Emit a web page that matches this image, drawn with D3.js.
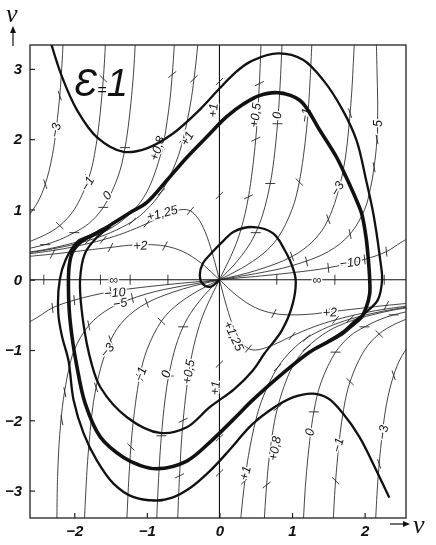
<!DOCTYPE html>
<html>
<head>
<meta charset="utf-8">
<script src="https://cdn.jsdelivr.net/npm/d3@7"></script>
<style>
  body { margin: 0; background: #fff; }
  svg { display: block; filter: grayscale(1); }
  text { font-family: "Liberation Sans", Arial, sans-serif; font-style: italic; fill: #111; }
</style>
</head>
<body>
<svg id="chart" width="436" height="545"></svg>
<script>
// ---- data (phase plane v, dv/dt, eps = 1) ----

// isoclines, one array per branch, [v, v'] pairs
var iso0Inner = [[-0.87,-3.58],[-0.86,-3.30],[-0.83,-2.67],[-0.8,-2.22],[-0.75,-1.71],[-0.7,-1.37],[-0.6,-0.94],[-0.5,-0.67],[-0.4,-0.48],[-0.2,-0.21],[0,0],[0.2,0.21],[0.4,0.48],[0.5,0.67],[0.6,0.94],[0.7,1.37],[0.75,1.71],[0.8,2.22],[0.83,2.67],[0.86,3.30],[0.87,3.58]];
var iso0Left = [[-1.12,4.40],[-1.15,3.57],[-1.2,2.73],[-1.3,1.88],[-1.4,1.46],[-1.6,1.03],[-1.8,0.80],[-2.0,0.67],[-2.2,0.57],[-2.4,0.50],[-2.65,0.44]];
var iso0Right = [[1.12,-4.40],[1.15,-3.57],[1.2,-2.73],[1.3,-1.88],[1.4,-1.46],[1.6,-1.03],[1.8,-0.80],[2.0,-0.67],[2.2,-0.57],[2.4,-0.50],[2.65,-0.44]];
var iso1Left = [[-0.27,3.70],[-0.3,3.33],[-0.35,2.86],[-0.4,2.5],[-0.5,2.0],[-0.6,1.67],[-0.8,1.25],[-1.0,1.0],[-1.2,0.83],[-1.5,0.67],[-1.8,0.56],[-2.1,0.48],[-2.4,0.42],[-2.65,0.38]];
var iso1Right = [[0.27,-3.70],[0.3,-3.33],[0.35,-2.86],[0.4,-2.5],[0.5,-2.0],[0.6,-1.67],[0.8,-1.25],[1.0,-1.0],[1.2,-0.83],[1.5,-0.67],[1.8,-0.56],[2.1,-0.48],[2.4,-0.42],[2.65,-0.38]];
var isoM1Inner = [[-1.28,-3.54],[-1.25,-2.86],[-1.2,-2.14],[-1.1,-1.39],[-1.0,-1.0],[-0.8,-0.59],[-0.6,-0.37],[-0.3,-0.16],[0,0],[0.3,0.16],[0.6,0.37],[0.8,0.59],[1.0,1.0],[1.1,1.39],[1.2,2.14],[1.25,2.86],[1.28,3.54]];
var isoM1Left = [[-1.55,3.85],[-1.6,2.86],[-1.7,1.91],[-1.8,1.45],[-2.0,1.0],[-2.2,0.77],[-2.4,0.64],[-2.65,0.53]];
var isoM1Right = [[1.55,-3.85],[1.6,-2.86],[1.7,-1.91],[1.8,-1.45],[2.0,-1.0],[2.2,-0.77],[2.4,-0.64],[2.65,-0.53]];
var isoM3Inner = [[-1.87,-3.72],[-1.85,-3.20],[-1.8,-2.37],[-1.7,-1.53],[-1.5,-0.86],[-1.3,-0.56],[-1.0,-0.33],[-0.5,-0.13],[0,0],[0.5,0.13],[1.0,0.33],[1.3,0.56],[1.5,0.86],[1.7,1.53],[1.8,2.37],[1.85,3.20],[1.87,3.72]];
var isoM3Left = [[-2.15,3.45],[-2.2,2.62],[-2.3,1.78],[-2.4,1.36],[-2.5,1.11],[-2.65,0.88]];
var isoM3Right = [[2.15,-3.45],[2.2,-2.62],[2.3,-1.78],[2.4,-1.36],[2.5,-1.11],[2.65,-0.88]];
var isoM5 = [[-2.24,-3.45],[-2.23,-2.8],[-2.2,-2.2],[-2.15,-1.7],[-2.08,-1.3],[-2.0,-1.0],[-1.8,-0.65],[-1.5,-0.40],[-1.0,-0.2],[-0.5,-0.087],[0,0],[0.5,0.087],[1.0,0.2],[1.5,0.40],[1.8,0.65],[2.0,1.0],[2.08,1.3],[2.13,1.6],[2.17,2.0],[2.18,2.5],[2.17,3.0],[2.16,3.45]];
var isoM10 = [[-2.65,-0.62],[-2.5,-0.53],[-2.3,-0.40],[-2.0,-0.29],[-1.5,-0.17],[-1.0,-0.1],[-0.5,-0.047],[0,0],[0.5,0.047],[1.0,0.1],[1.5,0.17],[2.0,0.29],[2.3,0.40],[2.5,0.53],[2.65,0.62]];
var iso2 = [[-2.65,0.33],[-2.3,0.365],[-2.0,0.40],[-1.5,0.46],[-1.25,0.49],[-1.0,0.5],[-0.75,0.48],[-0.5,0.4],[-0.25,0.235],[0,0],[0.25,-0.235],[0.5,-0.4],[0.75,-0.48],[1.0,-0.5],[1.25,-0.49],[1.5,-0.46],[2.0,-0.40],[2.3,-0.365],[2.65,-0.33]];
var iso125 = [[-2.65,0.365],[-2.3,0.415],[-2.0,0.47],[-1.6,0.57],[-1.3,0.67],[-1.0,0.8],[-0.8,0.9],[-0.6,0.98],[-0.5,1.0],[-0.4,0.98],[-0.3,0.88],[-0.2,0.69],[-0.1,0.385],[0,0],[0.1,-0.385],[0.2,-0.69],[0.3,-0.88],[0.4,-0.98],[0.5,-1.0],[0.6,-0.98],[0.8,-0.9],[1.0,-0.8],[1.3,-0.67],[1.6,-0.57],[2.0,-0.47],[2.3,-0.415],[2.65,-0.365]];
var iso08Left = [[-0.58,4.25],[-0.6,3.75],[-0.65,2.92],[-0.7,2.41],[-0.8,1.82],[-1.0,1.25],[-1.2,0.97],[-1.5,0.73],[-1.8,0.59],[-2.1,0.50],[-2.4,0.43],[-2.65,0.39]];
var iso08Right = [[0.58,-4.25],[0.6,-3.75],[0.65,-2.92],[0.7,-2.41],[0.8,-1.82],[1.0,-1.25],[1.2,-0.97],[1.5,-0.73],[1.8,-0.59],[2.1,-0.50],[2.4,-0.43],[2.65,-0.39]];
var iso05Inner = [[-0.58,-3.55],[-0.55,-2.79],[-0.5,-2.0],[-0.4,-1.18],[-0.3,-0.73],[-0.2,-0.435],[0,0],[0.2,0.435],[0.3,0.73],[0.4,1.18],[0.5,2.0],[0.55,2.79],[0.58,3.55]];

// short direction marks sitting on the isoclines
var marksInf = [[-2.42,0],[-1.64,0],[-1.23,0],[-0.71,0],[0.79,0],[1.59,0],[2.27,0]];
var marksAxis = [[0,2.82],[0,2.25],[0,1.2],[0,-1.2],[0,-2.25],[0,-2.75]];
var marks0 = [[0.5,0.67],[0.7,1.37],[0.8,2.22],[0.83,2.67],[0.855,3.22],[-0.5,-0.67],[-0.7,-1.37],[-0.8,-2.22],[-0.83,-2.67],[-0.855,-3.15],[-1.3,1.88],[-1.6,1.03],[-2.0,0.67],[-2.4,0.5],[1.3,-1.88],[1.6,-1.03],[2.0,-0.67],[2.4,-0.5]];
var marks1 = [[-0.35,2.86],[-0.5,2.0],[-0.8,1.25],[-1.2,0.83],[-1.8,0.56],[0.35,-2.86],[0.5,-2.0],[0.8,-1.25],[1.2,-0.83],[1.8,-0.56]];
var marksM1 = [[1.22,2.38],[1.1,1.39],[0.8,0.59],[-1.22,-2.38],[-1.1,-1.39],[-0.8,-0.59],[-1.6,2.86],[-1.8,1.45],[-2.2,0.77],[1.6,-2.86],[1.8,-1.45],[2.2,-0.77]];
var marksM3 = [[1.8,2.37],[1.7,1.53],[1.5,0.86],[1.0,0.33],[-1.8,-2.37],[-1.7,-1.53],[-1.5,-0.86],[-1.0,-0.33],[-2.2,2.62],[-2.4,1.36],[2.2,-2.62],[2.4,-1.36]];
var marksM5 = [[2.17,2.0],[2.13,1.6],[1.8,0.65],[1.2,0.26],[-2.17,-2.0],[-2.13,-1.6],[-1.8,-0.65],[-1.2,-0.26]];
var marksM10 = [[2.3,0.4],[2.0,0.29],[1.5,0.17],[-2.3,-0.4],[-2.0,-0.29],[-1.5,-0.17]];
var marks2 = [[-2.3,0.365],[-1.5,0.46],[-0.75,0.48],[2.3,-0.365],[1.5,-0.46],[0.75,-0.48]];
var marks125 = [[-1.6,0.57],[-1.0,0.8],[-0.4,0.98],[1.6,-0.57],[1.0,-0.8],[0.4,-0.98]];
var marks08 = [[-0.65,2.92],[-0.8,1.82],[-1.2,0.97],[0.65,-2.92],[0.8,-1.82],[1.2,-0.97]];
var marks05 = [[0.4,1.18],[0.5,2.0],[0.55,2.79],[-0.4,-1.18],[-0.5,-2.0],[-0.55,-2.79]];

// trajectories
var limitCycle = [[-2.08,0.00],[-2.07,0.20],[-2.03,0.38],[-1.95,0.50],[-1.85,0.58],[-1.70,0.66],[-1.50,0.78],[-1.24,0.95],[-1.00,1.10],[-0.72,1.42],[-0.45,1.74],[-0.13,2.08],[0.10,2.32],[0.33,2.50],[0.55,2.62],[0.81,2.66],[1.11,2.55],[1.38,2.13],[1.61,1.75],[1.75,1.45],[1.88,1.15],[1.96,0.94],[2.02,0.60],[2.05,0.30],[2.07,0.00],[2.07,-0.20],[2.02,-0.40],[1.96,-0.53],[1.85,-0.63],[1.70,-0.76],[1.50,-0.88],[1.24,-1.03],[0.92,-1.29],[0.46,-1.71],[0.20,-1.98],[-0.13,-2.31],[-0.45,-2.58],[-0.86,-2.69],[-1.10,-2.64],[-1.32,-2.53],[-1.64,-2.24],[-1.85,-1.76],[-1.97,-1.20],[-2.03,-0.82],[-2.07,-0.43]];
var outerTop = [[-2.33,3.40],[-2.17,2.89],[-1.96,2.41],[-1.69,2.03],[-1.32,1.82],[-1.00,1.87],[-0.64,2.08],[-0.27,2.42],[0.00,2.72],[0.20,2.93],[0.42,3.10],[0.81,3.22],[1.15,3.13],[1.43,2.84],[1.70,2.41],[1.89,1.98],[2.02,1.42],[2.12,0.94],[2.21,0.32],[2.24,0.00],[2.18,-0.29],[2.02,-0.46],[1.85,-0.60],[1.70,-0.74],[1.50,-0.87]];
var outerBottom = [[2.34,-3.10],[2.16,-2.71],[1.93,-2.24],[1.70,-1.90],[1.50,-1.69],[1.29,-1.62],[1.02,-1.67],[0.69,-1.86],[0.42,-2.09],[0.14,-2.42],[-0.13,-2.72],[-0.40,-2.96],[-0.65,-3.10],[-0.86,-3.14],[-1.19,-3.09],[-1.46,-2.90],[-1.69,-2.57],[-1.87,-2.19],[-2.01,-1.71],[-2.08,-1.15],[-2.17,-0.80],[-2.22,-0.48],[-2.20,0.00],[-2.12,0.28],[-1.96,0.54],[-1.78,0.63],[-1.60,0.73]];
var innerSpiral = [[0,0],[-0.13,-0.10],[-0.24,-0.05],[-0.27,0.06],[-0.23,0.23],[-0.10,0.39],[0.05,0.55],[0.19,0.68],[0.46,0.75],[0.74,0.66],[0.90,0.42],[1.00,0.20],[1.05,0.00],[1.01,-0.34],[0.86,-0.72],[0.62,-1.05],[0.46,-1.29],[0.20,-1.56],[-0.13,-1.81],[-0.45,-2.10],[-0.82,-2.18],[-1.27,-1.96],[-1.64,-1.53],[-1.76,-1.20],[-1.88,-0.58],[-1.92,0.00],[-1.85,0.38],[-1.69,0.60],[-1.50,0.76]];

// isocline labels: text, v, v', angle
var isoLabels = [
  ["−3",-2.26,2.13,-80],["−1",-1.82,1.37,-60],["0",-1.55,1.2,-50],["+0,8",-0.86,1.87,-72],
  ["+1",-0.45,2.01,-60],["+1",-0.09,2.41,-85],["+1,25",-0.79,0.95,-15],["+2",-1.09,0.49,-3],
  ["∞",-1.46,0,0],["−10",-1.44,-0.18,-5],["−5",-1.37,-0.33,-10],["−3",-1.55,-1.0,-50],
  ["−1",-1.09,-1.34,-70],["0",-0.74,-1.34,-75],["+0,5",-0.43,-1.31,-80],["+1",-0.06,-1.54,-85],
  ["+0,5",0.49,2.34,-82],["0",0.79,2.34,-88],["−1",1.18,2.34,-80],["−5",2.18,2.17,-90],
  ["−3",1.62,1.30,-60],["−10",1.8,0.25,-8],["∞",1.34,0,0],["+2",1.52,-0.46,-3],
  ["+1,25",0.2,-0.8,65],["+1",0.35,-2.75,-75],["+0,8",0.76,-2.4,-80],["0",1.24,-2.17,-78],
  ["−1",1.63,-2.35,-75],["−3",2.25,-2.17,-82]
];

var xTicks = [-2, -1, 0, 1, 2];
var yTicks = [-3, -2, -1, 0, 1, 2, 3];

// ---- drawing ----
var svg = d3.select("#chart");
var x = d3.scaleLinear().domain([-2.61, 2.57]).range([30, 406]);
var y = d3.scaleLinear().domain([-3.39, 3.34]).range([518, 45]);

svg.append("defs").append("clipPath").attr("id", "plot")
  .append("rect").attr("x", 30).attr("y", 45).attr("width", 376).attr("height", 473);

var line = d3.line().x(function(d){ return x(d[0]); }).y(function(d){ return y(d[1]); })
  .curve(d3.curveCatmullRom.alpha(0.5));
var closedLine = d3.line().x(function(d){ return x(d[0]); }).y(function(d){ return y(d[1]); })
  .curve(d3.curveCatmullRomClosed.alpha(0.5));

var plot = svg.append("g").attr("clip-path", "url(#plot)");

// axes through the origin (they are the isoclines infinity and +1)
plot.append("line").attr("x1", 30).attr("x2", 406).attr("y1", y(0)).attr("y2", y(0))
  .attr("stroke", "#111").attr("stroke-width", 1.1);
plot.append("line").attr("x1", x(0)).attr("x2", x(0)).attr("y1", 45).attr("y2", 518)
  .attr("stroke", "#111").attr("stroke-width", 1.1);

var isoclines = [iso0Inner, iso0Left, iso0Right, iso1Left, iso1Right, isoM1Inner, isoM1Left, isoM1Right,
  isoM3Inner, isoM3Left, isoM3Right, isoM5, isoM10, iso2, iso125, iso08Left, iso08Right, iso05Inner];

plot.selectAll("path.iso").data(isoclines).enter().append("path")
  .attr("class", "iso")
  .attr("d", line)
  .attr("fill", "none")
  .attr("stroke", "#222")
  .attr("stroke-width", 0.85);

// direction marks
var markSets = [
  {k: Infinity, pts: marksInf}, {k: 1, pts: marksAxis}, {k: 0, pts: marks0}, {k: 1, pts: marks1},
  {k: -1, pts: marksM1}, {k: -3, pts: marksM3}, {k: -5, pts: marksM5}, {k: -10, pts: marksM10},
  {k: 2, pts: marks2}, {k: 1.25, pts: marks125}, {k: 0.8, pts: marks08}, {k: 0.5, pts: marks05}
];
var sx = x(1) - x(0), sy = y(0) - y(1);
markSets.forEach(function(set) {
  var dx, dy;
  if (set.k === Infinity) { dx = 0; dy = 1; }
  else {
    dx = sx; dy = set.k * sy;
    var n = Math.sqrt(dx * dx + dy * dy);
    dx /= n; dy /= n;
  }
  plot.selectAll(null).data(set.pts).enter().append("line")
    .attr("x1", function(d){ return x(d[0]) - 5 * dx; })
    .attr("x2", function(d){ return x(d[0]) + 5 * dx; })
    .attr("y1", function(d){ return y(d[1]) + 5 * dy; })
    .attr("y2", function(d){ return y(d[1]) - 5 * dy; })
    .attr("stroke", "#222").attr("stroke-width", 0.9);
});

// isocline labels, white halo cuts a gap in the curve
plot.selectAll("text.lab").data(isoLabels).enter().append("text")
  .attr("class", "lab")
  .attr("transform", function(d){ return "translate(" + x(d[1]) + "," + y(d[2]) + ") rotate(" + d[3] + ")"; })
  .attr("text-anchor", "middle")
  .attr("dy", "0.35em")
  .attr("font-size", 12.5)
  .attr("stroke", "#fff").attr("stroke-width", 3).attr("paint-order", "stroke")
  .text(function(d){ return d[0]; });

// trajectories
plot.append("path").attr("d", line(outerTop)).attr("fill", "none").attr("stroke", "#111").attr("stroke-width", 2.3);
plot.append("path").attr("d", line(outerBottom)).attr("fill", "none").attr("stroke", "#111").attr("stroke-width", 2.3);
plot.append("path").attr("d", line(innerSpiral)).attr("fill", "none").attr("stroke", "#111").attr("stroke-width", 2.3);
plot.append("path").attr("d", closedLine(limitCycle)).attr("fill", "none").attr("stroke", "#111").attr("stroke-width", 3.6);

// frame
svg.append("rect").attr("x", 30).attr("y", 45).attr("width", 376).attr("height", 473)
  .attr("fill", "none").attr("stroke", "#222").attr("stroke-width", 1.3);

// tick marks and labels
function fmt(d) { return d < 0 ? "−" + (-d) : "" + d; }
var yAxis = svg.append("g").attr("transform", "translate(30,0)")
  .call(d3.axisLeft(y).tickValues(yTicks).tickSize(-5).tickPadding(8).tickFormat(fmt));
var xAxis = svg.append("g").attr("transform", "translate(0,518)")
  .call(d3.axisBottom(x).tickValues(xTicks).tickSize(-5).tickPadding(7).tickFormat(fmt));
[yAxis, xAxis].forEach(function(a) {
  a.select(".domain").remove();
  a.selectAll(".tick line").attr("stroke", "#222").attr("stroke-width", 1.2);
  a.selectAll(".tick text").attr("font-size", 15).attr("font-weight", "bold")
    .style("font-family", "'Liberation Sans', Arial, sans-serif").style("font-style", "italic").attr("fill", "#111");
});

// epsilon label
var eps = svg.append("text").attr("x", 74).attr("y", 96).style("font-style", "italic");
eps.append("tspan").attr("font-size", 38).text("Ɛ");
eps.append("tspan").attr("font-size", 16).attr("dy", -1).text("=");
eps.append("tspan").attr("font-size", 38).attr("dy", 1).text("1");

// axis names with arrows
svg.append("text").attr("x", 6).attr("y", 22).attr("font-size", 26)
  .style("font-family", "'Liberation Serif', serif").text("v");
svg.append("line").attr("x1", 13).attr("x2", 13).attr("y1", 46).attr("y2", 30).attr("stroke", "#111").attr("stroke-width", 1.2);
svg.append("path").attr("d", "M10,33 L13,26 L16,33 Z").attr("fill", "#111");
svg.append("line").attr("x1", 390).attr("x2", 406).attr("y1", 524).attr("y2", 524).attr("stroke", "#111").attr("stroke-width", 1.2);
svg.append("path").attr("d", "M403,521 L410,524 L403,527 Z").attr("fill", "#111");
svg.append("text").attr("x", 413).attr("y", 533).attr("font-size", 26)
  .style("font-family", "'Liberation Serif', serif").text("v");
</script>
</body>
</html>
